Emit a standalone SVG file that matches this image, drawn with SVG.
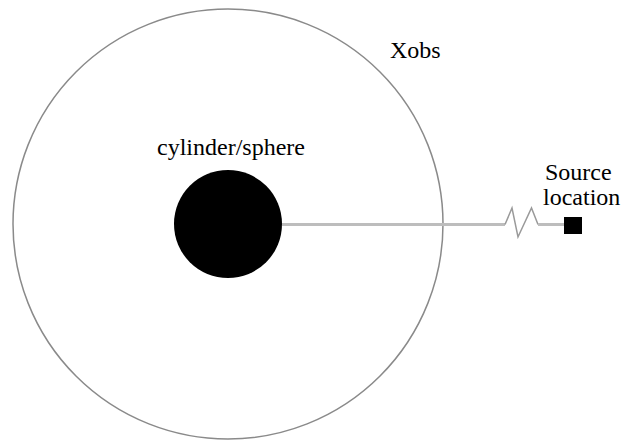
<svg xmlns="http://www.w3.org/2000/svg" width="626" height="441" viewBox="0 0 626 441">
<style>
text { font-family: "Liberation Serif", "Times New Roman", serif; font-size: 24px; fill: #000; }
.conn { fill: none; stroke: #bdbdbd; stroke-width: 3; stroke-linejoin: miter; }
.zig { fill: none; stroke: #9a9a9a; stroke-width: 1.5; }
</style>
<rect width="626" height="441" fill="#fff"/>
<g id="observer">
<circle cx="228" cy="224" r="215" fill="none" stroke="#8a8a8a" stroke-width="1.5"/>
<text x="390" y="58">Xobs</text>
</g>
<g id="connectors">
<path class="conn" d="M282 224.5 L505 224.5"/>
<path class="zig" d="M505 224.5 L512 208 L518 237 L531.5 208 L538 224.5"/>
<path class="conn" d="M538 224.5 L565 224.5"/>
</g>
<g id="cylinder">
<circle cx="228" cy="224" r="54" fill="#000"/>
<text x="157" y="155">cylinder/sphere</text>
</g>
<g id="source">
<rect x="564" y="217" width="18" height="17" fill="#000"/>
<text x="545" y="180">Source</text>
<text x="543" y="205">location</text>
</g>
</svg>
